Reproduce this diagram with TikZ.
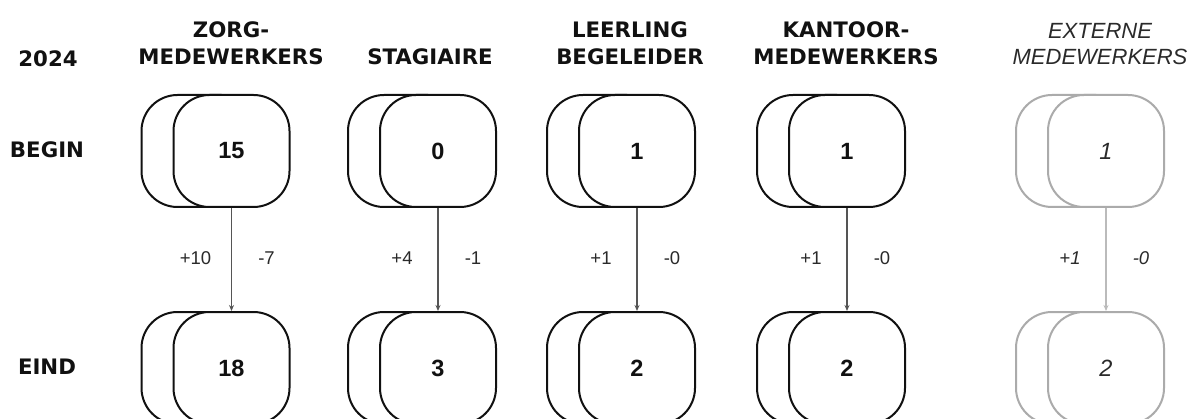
\documentclass[tikz,border=0pt]{standalone}
\usepackage{fontspec}
\setmainfont{Liberation Sans}
\newfontfamily\headfont{DejaVu Sans}
\usetikzlibrary{arrows.meta}
\definecolor{ink}{HTML}{111111}
\definecolor{conn}{HTML}{555555}
\definecolor{pale}{HTML}{ABABAB}
\definecolor{palec}{HTML}{BBBBBB}
\definecolor{soft}{HTML}{2A2A2A}
\tikzset{
 card/.style={draw=ink, line width=2pt, fill=white, rounded corners=36pt, minimum width=116pt, minimum height=112pt, inner sep=0pt, font=\bfseries\fontsize{23.5}{28}\selectfont, text=ink},
 pcard/.style={card, draw=pale, font=\itshape\fontsize{23.5}{28}\selectfont, text=soft},
 flow/.style={draw=conn, line width=1.4pt, -{Stealth[length=6pt,width=5pt]}},
 pflow/.style={flow, draw=palec},
 delta/.style={font=\fontsize{18.5}{22}\selectfont, text=soft},
 pdelta/.style={delta, font=\itshape\fontsize{18.5}{22}\selectfont},
 head/.style={font=\headfont\bfseries\fontsize{21.3}{27.5}\selectfont, align=center, text=ink, inner sep=0pt},
 phead/.style={font=\itshape\fontsize{22}{26.5}\selectfont, align=center, text=soft, inner sep=0pt},
}
\begin{document}
\begin{tikzpicture}[x=1pt,y=-1pt]
\useasboundingbox (0,0) rectangle (1190,419);
\fill[white] (0,0) rectangle (1190,419);
\clip (0,0) rectangle (1190,419);
% row labels
\node[head] (year) at (48,59) {2024};
\node[head] (begin) at (47,150) {BEGIN};
\node[head] (eind) at (47,367) {EIND};
% headers
\node[head] (h1) at (231,43.5) {ZORG-\\MEDEWERKERS};
\node[head] (h2) at (430,57) {STAGIAIRE};
\node[head] (h3) at (630,43.5) {LEERLING\\BEGELEIDER};
\node[head] (h4) at (846,43.5) {KANTOOR-\\MEDEWERKERS};
\node[phead] (h5) at (1100,44) {EXTERNE\\MEDEWERKERS};
% columns
\foreach \n/\x/\a/\b/\p/\m in {1/231.5/15/18/+10/-7, 2/438/0/3/+4/-1, 3/637/1/2/+1/-0, 4/847/1/2/+1/-0}{
  \node[card] (ba\n) at ({\x-32},151) {};
  \node[card] (fa\n) at (\x,151) {\a};
  \node[card] (bb\n) at ({\x-32},368) {};
  \node[card] (fb\n) at (\x,368) {\b};
  \draw[flow] (fa\n.south) -- (fb\n.north);
  \node[delta] (p\n) at ({\x-36},258) {\p};
  \node[delta] (m\n) at ({\x+35},258) {\m};
}
\node[pcard] (ba5) at (1074,151) {};
\node[pcard] (fa5) at (1106,151) {1};
\node[pcard] (bb5) at (1074,368) {};
\node[pcard] (fb5) at (1106,368) {2};
\draw[pflow] (fa5.south) -- (fb5.north);
\node[pdelta] (p5) at (1070,258) {+1};
\node[pdelta] (m5) at (1141,258) {-0};
\end{tikzpicture}
\end{document}
